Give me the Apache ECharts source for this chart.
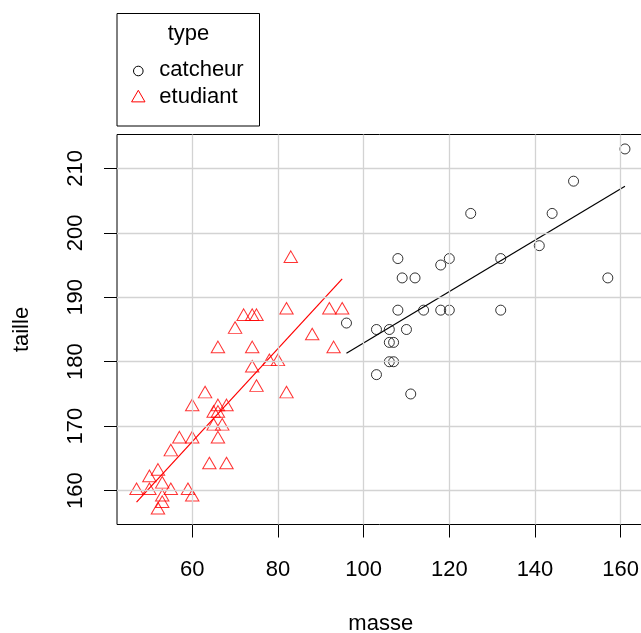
<!DOCTYPE html>
<html><head><meta charset="utf-8">
<script src="https://cdn.jsdelivr.net/npm/echarts@6/dist/echarts.min.js"></script>
<style>html,body{margin:0;padding:0;background:#fff}#c{width:641px;height:633px}</style>
</head><body><div id="c"></div>
<script>
// ---- data ----
const catcheurMasse  = [161,149,144,125,141,108,120,132,118,109,112,157,108,114,118,120,132, 96,103,106,110,106,107,106,107,103,111];
const catcheurTaille = [213,208,203,203,198,196,196,196,195,193,193,193,188,188,188,188,188,186,185,185,185,183,183,180,180,178,175];
const etudiantMasse  = [83,82,72,74,75,92,95,70,88,66,74,93,78,80,74,75,82,63,60,66,68,65,66,65,67,66,57,60,55,64,68,52,50,47,50,53,55,59,60,53,53,52];
const etudiantTaille = [196,188,187,187,187,188,188,185,184,182,182,182,180,180,179,176,175,175,173,173,173,172,172,170,170,168,168,168,166,164,164,163,162,160,160,161,160,160,159,159,158,157];
const xTicks = [60,80,100,120,140,160];
const yTicks = [160,170,180,190,200,210];
const seriesNames = ['catcheur','etudiant'];
const legendTitle = 'type';
const xName = 'masse', yName = 'taille';

const FONT = '"Liberation Sans", Arial, sans-serif';
const FS = 22;

function pairs(xs, ys){ return xs.map((x,i)=>[x, ys[i]]); }
function fit(xs, ys){
  const n = xs.length;
  const mx = xs.reduce((a,b)=>a+b,0)/n, my = ys.reduce((a,b)=>a+b,0)/n;
  let sxy=0, sxx=0;
  for(let i=0;i<n;i++){ sxy += (xs[i]-mx)*(ys[i]-my); sxx += (xs[i]-mx)*(xs[i]-mx); }
  const b = sxy/sxx, a = my - b*mx;
  const x0 = Math.min(...xs), x1 = Math.max(...xs);
  return [[x0, a+b*x0],[x1, a+b*x1]];
}
const allX = catcheurMasse.concat(etudiantMasse), allY = catcheurTaille.concat(etudiantTaille);
function rng(v){ const lo=Math.min(...v), hi=Math.max(...v), d=(hi-lo)*0.04; return [lo-d, hi+d]; }
const [xMin,xMax] = rng(allX), [yMin,yMax] = rng(allY);

const triH = 11.6, triW = 13.4;
const chart = echarts.init(document.getElementById('c'), null, {renderer:'canvas'});
chart.setOption({
  animation:false,
  backgroundColor:'#fff',
  textStyle:{fontFamily:FONT},
  grid:{left:117, top:134.5, width:527.5, height:390, show:true, borderColor:'#000', borderWidth:1, backgroundColor:'transparent', containLabel:false, outerBoundsMode:'none'},
  xAxis:{type:'value', min:xMin, max:xMax,
    axisLine:{show:false},
    axisTick:{show:true, customValues:xTicks, length:13, lineStyle:{color:'#000', width:1}},
    axisLabel:{customValues:xTicks, color:'#000', fontSize:FS, fontFamily:FONT, margin:34},
    splitLine:{show:false},
    name:xName, nameLocation:'middle', nameGap:88, nameTextStyle:{color:'#000', fontSize:FS, fontFamily:FONT}},
  yAxis:{type:'value', min:yMin, max:yMax,
    axisLine:{show:false},
    axisTick:{show:true, customValues:yTicks, length:13, lineStyle:{color:'#000', width:1}},
    axisLabel:{customValues:yTicks, color:'#000', fontSize:FS, fontFamily:FONT, rotate:90, margin:30},
    splitLine:{show:false},
    name:yName, nameLocation:'middle', nameGap:84, nameRotate:90, nameTextStyle:{color:'#000', fontSize:FS, fontFamily:FONT}},
  series:[
    {type:'scatter', name:'grid', data:[], silent:true, z:1,
      markLine:{silent:true, symbol:'none', label:{show:false}, animation:false,
        lineStyle:{color:'#d3d3d3', width:1.3, type:'solid'},
        data: xTicks.map(v=>({xAxis:v})).concat(yTicks.map(v=>({yAxis:v})))}},
    {type:'scatter', name:seriesNames[0], data:pairs(catcheurMasse,catcheurTaille), z:3,
      symbol:'circle', symbolSize:10,
      itemStyle:{color:'rgba(0,0,0,0)', borderColor:'#000', borderWidth:1}},
    {type:'scatter', name:seriesNames[1], data:pairs(etudiantMasse,etudiantTaille), z:3,
      symbol:'triangle', symbolSize:[triW,triH], symbolOffset:[0,-triH/6],
      itemStyle:{color:'rgba(0,0,0,0)', borderColor:'#ff0000', borderWidth:1}},
    {type:'line', data:fit(catcheurMasse,catcheurTaille), showSymbol:false, symbol:'none', z:4,
      lineStyle:{color:'#000', width:1.2}},
    {type:'line', data:fit(etudiantMasse,etudiantTaille), showSymbol:false, symbol:'none', z:4,
      lineStyle:{color:'#ff0000', width:1.2}}
  ],
  graphic:[
    {type:'rect', shape:{x:117, y:13.5, width:142.5, height:112.5}, style:{stroke:'#000', fill:'#fff', lineWidth:1}},
    {type:'text', x:188.5, y:34.4, style:{text:legendTitle, font:FS+'px '+FONT, fill:'#000', textAlign:'center', textVerticalAlign:'middle', align:'center', verticalAlign:'middle'}},
    {type:'circle', shape:{cx:138.3, cy:71, r:4.8}, style:{stroke:'#000', fill:'none', lineWidth:1}},
    {type:'polygon', shape:{points:[[138.3,98-triH*2/3],[138.3+triW/2,98+triH/3],[138.3-triW/2,98+triH/3]]}, style:{stroke:'#ff0000', fill:'none', lineWidth:1}},
    {type:'text', x:159.3, y:69.7, style:{text:seriesNames[0], font:FS+'px '+FONT, fill:'#000', textAlign:'left', textVerticalAlign:'middle', align:'left', verticalAlign:'middle'}},
    {type:'text', x:159.3, y:97.4, style:{text:seriesNames[1], font:FS+'px '+FONT, fill:'#000', textAlign:'left', textVerticalAlign:'middle', align:'left', verticalAlign:'middle'}}
  ]
});
</script></body></html>
